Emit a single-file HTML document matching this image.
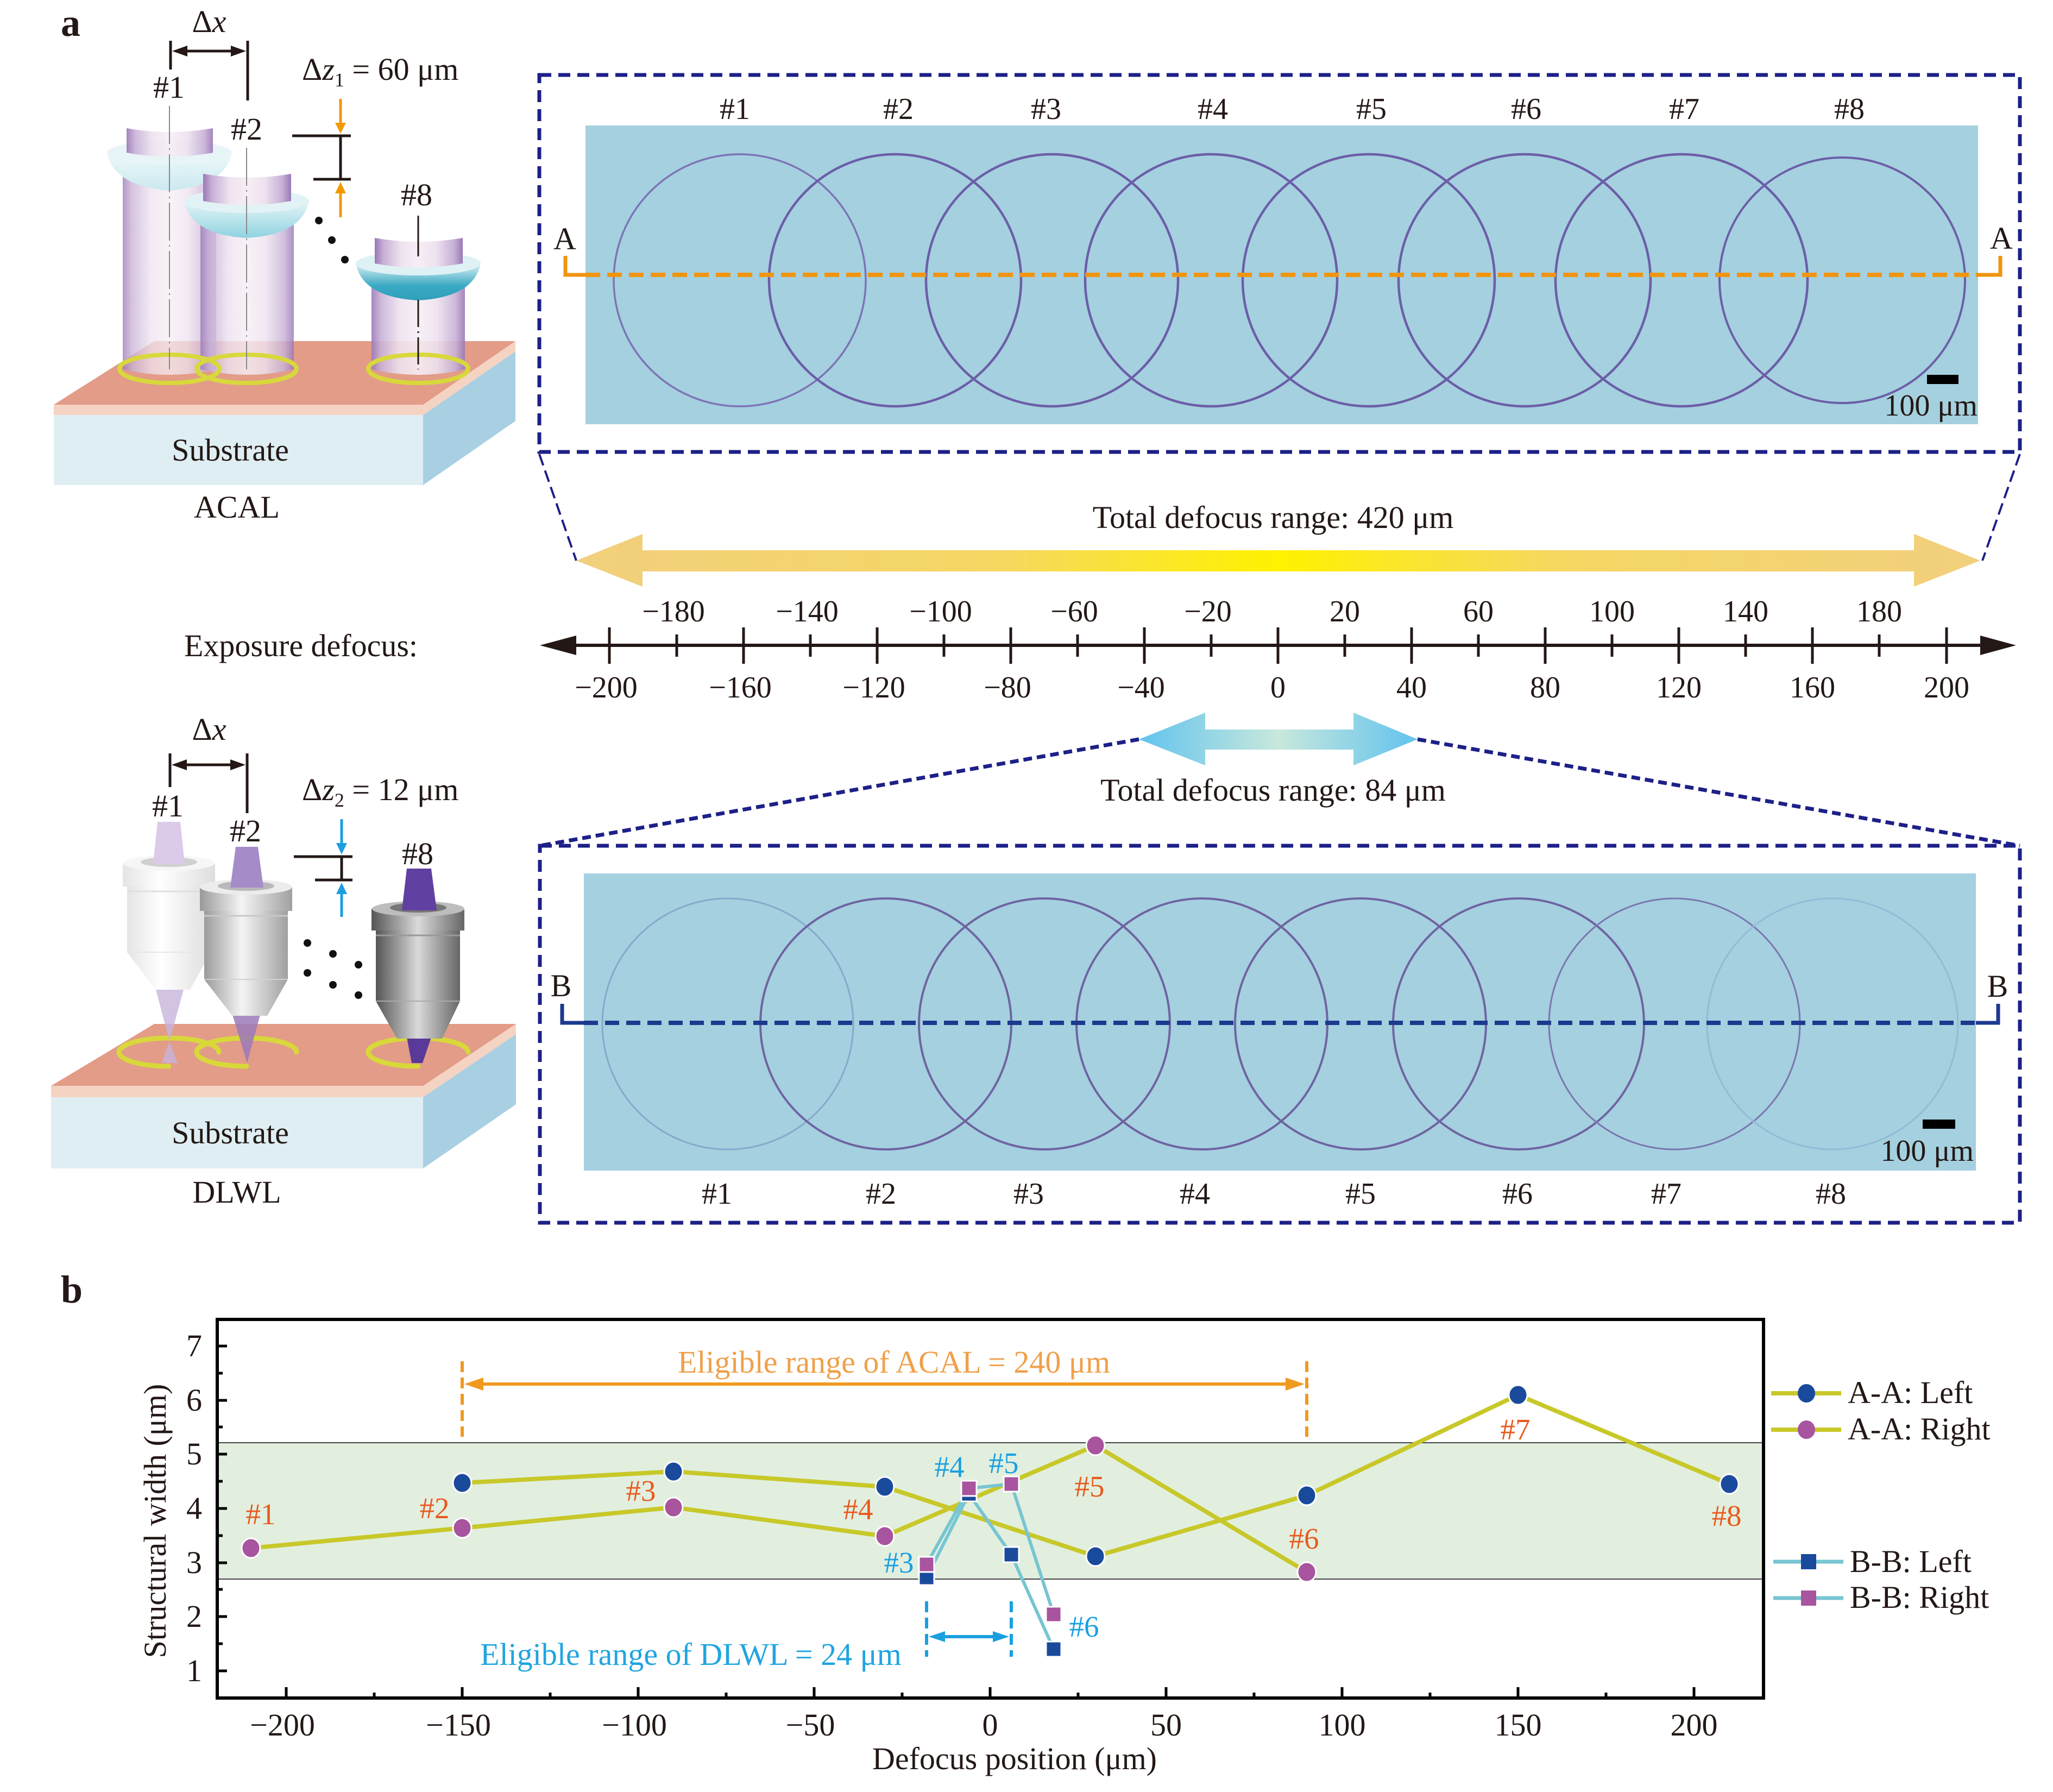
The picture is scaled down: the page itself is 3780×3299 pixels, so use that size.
<!DOCTYPE html>
<html><head><meta charset="utf-8"><style>
html,body{margin:0;padding:0;background:#fff;}
svg{display:block;}
text{font-family:"Liberation Serif","Times New Roman",serif;fill:#231815;}
</style></head><body>
<svg width="3780" height="3299" viewBox="0 0 3780 3299" xmlns="http://www.w3.org/2000/svg">
<defs>
<linearGradient id="yg" x1="0" x2="1"><stop offset="0" stop-color="#f2cf7e"/><stop offset="0.3" stop-color="#f5d762"/><stop offset="0.5" stop-color="#fff200"/><stop offset="0.7" stop-color="#f5d762"/><stop offset="1" stop-color="#f2cf7e"/></linearGradient>
<linearGradient id="bgr" x1="0" x2="1"><stop offset="0" stop-color="#62c3ee"/><stop offset="0.5" stop-color="#c8e8dc"/><stop offset="1" stop-color="#62c3ee"/></linearGradient>
<linearGradient id="tube" x1="0" x2="1"><stop offset="0" stop-color="#9a78b6"/><stop offset="0.1" stop-color="#c7b0d6"/><stop offset="0.3" stop-color="#eee2ef"/><stop offset="0.5" stop-color="#f6eef5"/><stop offset="0.7" stop-color="#eee2ef"/><stop offset="0.9" stop-color="#c7b0d6"/><stop offset="1" stop-color="#9a78b6"/></linearGradient>
<linearGradient id="lens1" x1="0" y1="0" x2="0" y2="1"><stop offset="0" stop-color="#eef8fa"/><stop offset="1" stop-color="#cbe9ef"/></linearGradient>
<linearGradient id="lens2" x1="0" y1="0" x2="0" y2="1"><stop offset="0" stop-color="#e6f5f8"/><stop offset="1" stop-color="#8fd3e0"/></linearGradient>
<linearGradient id="lens8" x1="0" y1="0" x2="0" y2="1"><stop offset="0" stop-color="#dff2f6"/><stop offset="0.6" stop-color="#3aa9c3"/><stop offset="1" stop-color="#2f9fbb"/></linearGradient>
<linearGradient id="objW" x1="0" x2="1"><stop offset="0" stop-color="#e4e4e4"/><stop offset="0.4" stop-color="#ffffff"/><stop offset="1" stop-color="#dedede"/></linearGradient>
<linearGradient id="objS" x1="0" x2="1"><stop offset="0" stop-color="#9a9a9a"/><stop offset="0.45" stop-color="#f4f4f4"/><stop offset="1" stop-color="#a0a0a0"/></linearGradient>
<linearGradient id="objD" x1="0" x2="1"><stop offset="0" stop-color="#555"/><stop offset="0.5" stop-color="#dadada"/><stop offset="1" stop-color="#666"/></linearGradient>
</defs>

<!-- ============ PANEL a : ACAL illustration ============ -->
<text x="112" y="66" font-size="72" font-weight="bold">a</text>

<polygon points="99,745 284,628 949,628 779,745" fill="#e29c88"/>
<polygon points="99,745 779,745 779,764 99,764" fill="#f5d3c3"/>
<polygon points="779,745 949,628 949,647 779,764" fill="#f5d3c3"/>
<rect x="99" y="764" width="680" height="129" fill="#dfeef3"/>
<polygon points="779,764 949,647 949,775 779,893" fill="#a9cfe3"/>
<text x="424" y="848" font-size="58" text-anchor="middle">Substrate</text>
<text x="436" y="953" font-size="58" text-anchor="middle">ACAL</text>

<!-- unit 1 -->
<path d="M226,300 L398,300 L398,680 Q312,700 226,680 Z" fill="url(#tube)" opacity="0.75"/>
<g transform="translate(312,281)">
<path d="M-115,0 C-107,39 -72,64 0,70 C72,64 107,39 115,0 Z" fill="url(#lens1)"/>
<ellipse cx="0" cy="0" rx="115" ry="22" fill="#e8f5f8"/>
<path d="M-79,-45 L-79,0 Q0,15 80,0 L80,-45 Q0,-31 -79,-45 Z" fill="url(#tube)" opacity="0.9"/>
</g>
<!-- unit 2 -->
<path d="M369,390 L541,390 L541,680 Q455,700 369,680 Z" fill="url(#tube)" opacity="0.82"/>
<g transform="translate(454,370)">
<path d="M-115,0 C-107,39 -72,64 0,68 C72,64 107,39 115,0 Z" fill="url(#lens2)"/>
<ellipse cx="0" cy="0" rx="115" ry="22" fill="#e2f3f6"/>
<path d="M-80,-50 L-80,0 Q0,15 82,0 L82,-50 Q0,-36 -80,-50 Z" fill="url(#tube)"/>
</g>
<!-- unit 8 -->
<path d="M684,500 L856,500 L856,680 Q770,700 684,680 Z" fill="url(#tube)" opacity="0.9"/>
<g transform="translate(770,485)">
<path d="M-115,0 C-107,39 -72,64 0,68 C72,64 107,39 115,0 Z" fill="url(#lens8)"/>
<ellipse cx="0" cy="0" rx="115" ry="22" fill="#def1f5"/>
<path d="M-80,-47 L-80,0 Q0,15 82,0 L82,-47 Q0,-33 -80,-47 Z" fill="url(#tube)"/>
</g>
<ellipse cx="312" cy="679" rx="92" ry="26" fill="none" stroke="#d8d83c" stroke-width="8"/>
<ellipse cx="454" cy="679" rx="92" ry="26" fill="none" stroke="#d8d83c" stroke-width="8"/>
<ellipse cx="770" cy="679" rx="92" ry="26" fill="none" stroke="#d8d83c" stroke-width="8"/>
<line x1="312" y1="195" x2="312" y2="680" stroke="#888" stroke-width="2" stroke-dasharray="70 8 3 8"/>
<line x1="454" y1="272" x2="454" y2="680" stroke="#888" stroke-width="2" stroke-dasharray="70 8 3 8"/>
<line x1="770" y1="397" x2="770" y2="472" stroke="#231815" stroke-width="3"/>
<line x1="770" y1="552" x2="770" y2="680" stroke="#231815" stroke-width="3" stroke-dasharray="50 8 3 8"/>

<text x="311" y="180" font-size="58" text-anchor="middle">#1</text>
<text x="454" y="257" font-size="58" text-anchor="middle">#2</text>
<text x="767" y="378" font-size="58" text-anchor="middle">#8</text>

<line x1="314" y1="75" x2="314" y2="128" stroke="#231815" stroke-width="5"/>
<line x1="456" y1="75" x2="456" y2="185" stroke="#231815" stroke-width="5"/>
<line x1="330" y1="94" x2="440" y2="94" stroke="#231815" stroke-width="5"/>
<polygon points="317,94 345,84 345,104" fill="#231815"/>
<polygon points="453,94 425,84 425,104" fill="#231815"/>
<text x="385" y="59" font-size="58" text-anchor="middle">Δ<tspan font-style="italic">x</tspan></text>

<text x="556" y="147" font-size="58">Δ<tspan font-style="italic">z</tspan><tspan font-size="36" dy="12">1</tspan><tspan dy="-12"> = 60 μm</tspan></text>
<line x1="627" y1="182" x2="627" y2="230" stroke="#f39800" stroke-width="5"/>
<polygon points="627,246 617,226 637,226" fill="#f39800"/>
<line x1="538" y1="250" x2="646" y2="250" stroke="#231815" stroke-width="5"/>
<line x1="577" y1="330" x2="646" y2="330" stroke="#231815" stroke-width="5"/>
<line x1="627" y1="250" x2="627" y2="330" stroke="#231815" stroke-width="5"/>
<line x1="627" y1="352" x2="627" y2="400" stroke="#f39800" stroke-width="5"/>
<polygon points="627,335 617,356 637,356" fill="#f39800"/>
<circle cx="587" cy="406" r="7" fill="#111"/>
<circle cx="611" cy="442" r="7" fill="#111"/>
<circle cx="635" cy="478" r="7" fill="#111"/>

<!-- ============ top dashed box ============ -->
<rect x="993" y="138" width="2726" height="694" fill="none" stroke="#1d2087" stroke-width="7" stroke-dasharray="22 13"/>
<rect x="1078" y="231" width="2564" height="550" fill="#a5d0df"/>
<g fill="none" stroke="#6b5ea8" stroke-width="4.5">
<circle cx="1362" cy="516" r="232" stroke="#7c74b6" stroke-width="3.5"/>
<circle cx="1648" cy="516" r="232"/>
<circle cx="1937" cy="516" r="232"/>
<circle cx="2230" cy="516" r="232"/>
<circle cx="2520" cy="516" r="232"/>
<circle cx="2807" cy="516" r="232"/>
<circle cx="3096" cy="516" r="232"/>
<circle cx="3392" cy="516" r="226" stroke-width="4"/>
</g>
<line x1="1078" y1="506" x2="3642" y2="506" stroke="#f0950f" stroke-width="8" stroke-dasharray="27 13"/>
<polyline points="1041,471 1041,506 1078,506" fill="none" stroke="#f0950f" stroke-width="7"/>
<polyline points="3642,506 3683,506 3683,471" fill="none" stroke="#f0950f" stroke-width="7"/>
<text x="1040" y="459" font-size="58" text-anchor="middle">A</text>
<text x="3685" y="458" font-size="58" text-anchor="middle">A</text>
<g font-size="56" text-anchor="middle">
<text x="1353" y="219">#1</text><text x="1654" y="219">#2</text><text x="1926" y="219">#3</text><text x="2233" y="219">#4</text>
<text x="2525" y="219">#5</text><text x="2810" y="219">#6</text><text x="3101" y="219">#7</text><text x="3405" y="219">#8</text>
</g>
<rect x="3548" y="690" width="58" height="17" fill="#000"/>
<text x="3641" y="765" font-size="56" text-anchor="end">100 μm</text>

<line x1="993" y1="836" x2="1061" y2="1032" stroke="#1d2087" stroke-width="4" stroke-dasharray="22 10"/>
<line x1="3719" y1="836" x2="3650" y2="1032" stroke="#1d2087" stroke-width="4" stroke-dasharray="22 10"/>

<!-- yellow arrow -->
<polygon points="1061,1032 1183,983 1183,1013 3524,1013 3524,983 3646,1032 3524,1080 3524,1052 1183,1052 1183,1080" fill="url(#yg)"/>
<text x="2344" y="972" font-size="58" text-anchor="middle">Total defocus range: 420 μm</text>

<!-- number line -->
<text x="339" y="1208" font-size="58">Exposure defocus:</text>
<line x1="1040" y1="1188" x2="3670" y2="1188" stroke="#231815" stroke-width="6"/>
<polygon points="994,1188 1061,1170 1061,1206" fill="#231815"/>
<polygon points="3712,1188 3646,1170 3646,1206" fill="#231815"/>
<g stroke="#231815" stroke-width="5">
<line x1="1122" y1="1155" x2="1122" y2="1222"/><line x1="1369" y1="1155" x2="1369" y2="1222"/><line x1="1615" y1="1155" x2="1615" y2="1222"/><line x1="1861" y1="1155" x2="1861" y2="1222"/><line x1="2107" y1="1155" x2="2107" y2="1222"/><line x1="2353" y1="1155" x2="2353" y2="1222"/><line x1="2599" y1="1155" x2="2599" y2="1222"/><line x1="2845" y1="1155" x2="2845" y2="1222"/><line x1="3091" y1="1155" x2="3091" y2="1222"/><line x1="3337" y1="1155" x2="3337" y2="1222"/><line x1="3584" y1="1155" x2="3584" y2="1222"/>
<line x1="1246" y1="1168" x2="1246" y2="1209"/><line x1="1492" y1="1168" x2="1492" y2="1209"/><line x1="1738" y1="1168" x2="1738" y2="1209"/><line x1="1984" y1="1168" x2="1984" y2="1209"/><line x1="2230" y1="1168" x2="2230" y2="1209"/><line x1="2476" y1="1168" x2="2476" y2="1209"/><line x1="2722" y1="1168" x2="2722" y2="1209"/><line x1="2968" y1="1168" x2="2968" y2="1209"/><line x1="3214" y1="1168" x2="3214" y2="1209"/><line x1="3460" y1="1168" x2="3460" y2="1209"/>
</g>
<g font-size="56" text-anchor="middle">
<text x="1240" y="1144">−180</text><text x="1486" y="1144">−140</text><text x="1732" y="1144">−100</text><text x="1978" y="1144">−60</text><text x="2224" y="1144">−20</text>
<text x="2476" y="1144">20</text><text x="2722" y="1144">60</text><text x="2968" y="1144">100</text><text x="3214" y="1144">140</text><text x="3460" y="1144">180</text>
<text x="1116" y="1284">−200</text><text x="1363" y="1284">−160</text><text x="1609" y="1284">−120</text><text x="1855" y="1284">−80</text><text x="2101" y="1284">−40</text>
<text x="2353" y="1284">0</text><text x="2599" y="1284">40</text><text x="2845" y="1284">80</text><text x="3091" y="1284">120</text><text x="3337" y="1284">160</text><text x="3584" y="1284">200</text>
</g>

<!-- blue arrow -->
<polygon points="2097,1361 2219,1312 2219,1343 2492,1343 2492,1312 2610,1361 2492,1409 2492,1380 2219,1380 2219,1409" fill="url(#bgr)"/>
<text x="2344" y="1474" font-size="58" text-anchor="middle">Total defocus range: 84 μm</text>
<line x1="2097" y1="1361" x2="994" y2="1557" stroke="#1d2087" stroke-width="7" stroke-dasharray="16 9"/>
<line x1="2610" y1="1361" x2="3719" y2="1557" stroke="#1d2087" stroke-width="7" stroke-dasharray="16 9"/>

<!-- ============ bottom dashed box ============ -->
<rect x="994" y="1557" width="2725" height="694" fill="none" stroke="#1d2087" stroke-width="7" stroke-dasharray="22 13"/>
<rect x="1075" y="1608" width="2563" height="547" fill="#a5d0df"/>
<g fill="none" stroke="#6e64a2" stroke-width="4">
<circle cx="1340" cy="1885" r="231" stroke="#86a8cc" stroke-width="3"/>
<circle cx="1631" cy="1885" r="231"/>
<circle cx="1923" cy="1885" r="231"/>
<circle cx="2213" cy="1885" r="231"/>
<circle cx="2505" cy="1885" r="231"/>
<circle cx="2796" cy="1885" r="231"/>
<circle cx="3083" cy="1885" r="231" stroke="#7a76b0" stroke-width="3"/>
<circle cx="3374" cy="1885" r="231" stroke="#93bbd6" stroke-width="3"/>
</g>
<line x1="1075" y1="1883" x2="3638" y2="1883" stroke="#1b3a8f" stroke-width="8" stroke-dasharray="26 13"/>
<polyline points="1035,1848 1035,1883 1075,1883" fill="none" stroke="#1b3a8f" stroke-width="7"/>
<polyline points="3638,1883 3679,1883 3679,1848" fill="none" stroke="#1b3a8f" stroke-width="7"/>
<text x="1033" y="1834" font-size="58" text-anchor="middle">B</text>
<text x="3678" y="1835" font-size="58" text-anchor="middle">B</text>
<g font-size="56" text-anchor="middle">
<text x="1320" y="2216">#1</text><text x="1622" y="2216">#2</text><text x="1894" y="2216">#3</text><text x="2200" y="2216">#4</text>
<text x="2505" y="2216">#5</text><text x="2794" y="2216">#6</text><text x="3068" y="2216">#7</text><text x="3371" y="2216">#8</text>
</g>
<rect x="3540" y="2061" width="60" height="17" fill="#000"/>
<text x="3634" y="2137" font-size="56" text-anchor="end">100 μm</text>

<!-- ============ DLWL illustration ============ -->
<polygon points="94,1999 284,1885 950,1885 779,1999" fill="#e29c88"/>
<polygon points="94,1999 779,1999 779,2020 94,2020" fill="#f5d3c3"/>
<polygon points="779,1999 950,1885 950,1904 779,2020" fill="#f5d3c3"/>
<rect x="94" y="2020" width="685" height="131" fill="#dfeef3"/>
<polygon points="779,2020 950,1904 950,2033 779,2151" fill="#a9cfe3"/>
<text x="424" y="2105" font-size="58" text-anchor="middle">Substrate</text>
<text x="436" y="2214" font-size="58" text-anchor="middle">DLWL</text>

<g fill="none" stroke="#d8d83a" stroke-width="9" stroke-linecap="round">
<path d="M311,1963 A92,26 0 1 1 403,1937"/>
<path d="M454,1963 A92,26 0 1 1 546,1937"/>
<path d="M770,1963 A92,26 0 1 1 862,1937"/>
</g>
<!-- beams below -->
<polygon points="287,1822 338,1822 312,1917" fill="#c8b4dc" opacity="0.8"/>
<polygon points="312,1917 298,1957 327,1957" fill="#c8b4dc" opacity="0.8"/>
<polygon points="428,1868 479,1868 455,1957" fill="#9a7ab8" opacity="0.85"/>
<polygon points="749,1910 794,1910 778,1957 758,1957" fill="#5a3a98"/>

<!-- objective 1 (white) -->
<rect x="226" y="1589" width="170" height="43" fill="url(#objW)"/>
<rect x="234" y="1632" width="154" height="121" fill="url(#objW)"/>
<polygon points="234,1753 388,1753 350,1822 287,1822" fill="url(#objW)"/>
<line x1="234" y1="1641" x2="388" y2="1641" stroke="#e0e0e0" stroke-width="3"/>
<line x1="234" y1="1753" x2="388" y2="1753" stroke="#e6e6e6" stroke-width="2"/>
<ellipse cx="311" cy="1589" rx="85" ry="14" fill="#f6f6f6"/>
<ellipse cx="311" cy="1587" rx="52" ry="9" fill="#d0d0d0"/>
<polygon points="290,1513 332,1513 340,1590 282,1590" fill="#dccaea"/>
<!-- objective 2 (silver) -->
<rect x="368" y="1633" width="170" height="44" fill="url(#objS)"/>
<rect x="376" y="1677" width="154" height="126" fill="url(#objS)"/>
<polygon points="376,1803 530,1803 492,1870 428,1870" fill="url(#objS)"/>
<line x1="376" y1="1686" x2="530" y2="1686" stroke="#c8c8c8" stroke-width="3"/>
<line x1="376" y1="1803" x2="530" y2="1803" stroke="#d0d0d0" stroke-width="2"/>
<ellipse cx="453" cy="1633" rx="85" ry="14" fill="#ececec"/>
<ellipse cx="453" cy="1631" rx="52" ry="9" fill="#b8b8b8"/>
<polygon points="434,1559 475,1559 485,1634 424,1634" fill="#a58cc8"/>
<!-- objective 8 (dark) -->
<rect x="684" y="1673" width="171" height="40" fill="url(#objD)"/>
<rect x="692" y="1713" width="155" height="130" fill="url(#objD)"/>
<polygon points="692,1843 847,1843 814,1912 731,1912" fill="url(#objD)"/>
<line x1="692" y1="1722" x2="847" y2="1722" stroke="#999" stroke-width="3"/>
<line x1="692" y1="1843" x2="847" y2="1843" stroke="#aaa" stroke-width="2"/>
<ellipse cx="770" cy="1673" rx="85" ry="14" fill="#bdbdbd"/>
<ellipse cx="770" cy="1671" rx="52" ry="9" fill="#777"/>
<polygon points="749,1599 794,1599 804,1676 740,1676" fill="#6040a0"/>

<text x="309" y="1503" font-size="58" text-anchor="middle">#1</text>
<text x="452" y="1549" font-size="58" text-anchor="middle">#2</text>
<text x="769" y="1591" font-size="58" text-anchor="middle">#8</text>

<line x1="313" y1="1387" x2="313" y2="1449" stroke="#231815" stroke-width="5"/>
<line x1="455" y1="1387" x2="455" y2="1497" stroke="#231815" stroke-width="5"/>
<line x1="330" y1="1408" x2="440" y2="1408" stroke="#231815" stroke-width="5"/>
<polygon points="316,1408 344,1398 344,1418" fill="#231815"/>
<polygon points="452,1408 424,1398 424,1418" fill="#231815"/>
<text x="385" y="1362" font-size="58" text-anchor="middle">Δ<tspan font-style="italic">x</tspan></text>

<text x="556" y="1473" font-size="58">Δ<tspan font-style="italic">z</tspan><tspan font-size="36" dy="12">2</tspan><tspan dy="-12"> = 12 μm</tspan></text>
<line x1="629" y1="1508" x2="629" y2="1556" stroke="#1a9fe0" stroke-width="5"/>
<polygon points="629,1573 619,1552 639,1552" fill="#1a9fe0"/>
<line x1="541" y1="1577" x2="649" y2="1577" stroke="#231815" stroke-width="5"/>
<line x1="580" y1="1620" x2="649" y2="1620" stroke="#231815" stroke-width="5"/>
<line x1="629" y1="1577" x2="629" y2="1620" stroke="#231815" stroke-width="5"/>
<line x1="629" y1="1642" x2="629" y2="1688" stroke="#1a9fe0" stroke-width="5"/>
<polygon points="629,1625 619,1646 639,1646" fill="#1a9fe0"/>
<g fill="#111">
<circle cx="566" cy="1736" r="7"/><circle cx="613" cy="1756" r="7"/><circle cx="660" cy="1776" r="7"/>
<circle cx="566" cy="1791" r="7"/><circle cx="613" cy="1813" r="7"/><circle cx="660" cy="1832" r="7"/>
</g>

<!-- ============ PANEL b ============ -->
<text x="112" y="2398" font-size="72" font-weight="bold">b</text>
<rect x="400" y="2656" width="2847" height="251" fill="#e2efdf"/>
<line x1="400" y1="2656" x2="3247" y2="2656" stroke="#444" stroke-width="2"/>
<line x1="400" y1="2907" x2="3247" y2="2907" stroke="#444" stroke-width="2"/>

<!-- y ticks -->
<g stroke="#000" stroke-width="5">
<line x1="400" y1="3076" x2="418" y2="3076"/><line x1="400" y1="2976" x2="418" y2="2976"/><line x1="400" y1="2877" x2="418" y2="2877"/><line x1="400" y1="2777" x2="418" y2="2777"/><line x1="400" y1="2677" x2="418" y2="2677"/><line x1="400" y1="2578" x2="418" y2="2578"/><line x1="400" y1="2478" x2="418" y2="2478"/>
<line x1="400" y1="3026" x2="410" y2="3026"/><line x1="400" y1="2926" x2="410" y2="2926"/><line x1="400" y1="2827" x2="410" y2="2827"/><line x1="400" y1="2727" x2="410" y2="2727"/><line x1="400" y1="2627" x2="410" y2="2627"/><line x1="400" y1="2528" x2="410" y2="2528"/>
</g>
<!-- x ticks -->
<g stroke="#000" stroke-width="5">
<line x1="527" y1="3126" x2="527" y2="3106"/><line x1="851" y1="3126" x2="851" y2="3106"/><line x1="1175" y1="3126" x2="1175" y2="3106"/><line x1="1499" y1="3126" x2="1499" y2="3106"/><line x1="1823" y1="3126" x2="1823" y2="3106"/><line x1="2147" y1="3126" x2="2147" y2="3106"/><line x1="2471" y1="3126" x2="2471" y2="3106"/><line x1="2795" y1="3126" x2="2795" y2="3106"/><line x1="3119" y1="3126" x2="3119" y2="3106"/>
<line x1="689" y1="3126" x2="689" y2="3116"/><line x1="1013" y1="3126" x2="1013" y2="3116"/><line x1="1337" y1="3126" x2="1337" y2="3116"/><line x1="1661" y1="3126" x2="1661" y2="3116"/><line x1="1985" y1="3126" x2="1985" y2="3116"/><line x1="2309" y1="3126" x2="2309" y2="3116"/><line x1="2633" y1="3126" x2="2633" y2="3116"/><line x1="2957" y1="3126" x2="2957" y2="3116"/>
</g>
<rect x="400" y="2429" width="2847" height="697" fill="none" stroke="#000" stroke-width="6"/>

<g font-size="58" text-anchor="end">
<text x="372" y="3095">1</text><text x="372" y="2995">2</text><text x="372" y="2896">3</text><text x="372" y="2796">4</text><text x="372" y="2696">5</text><text x="372" y="2597">6</text><text x="372" y="2497">7</text>
</g>
<g font-size="58" text-anchor="middle">
<text x="520" y="3195">−200</text><text x="844" y="3195">−150</text><text x="1168" y="3195">−100</text><text x="1492" y="3195">−50</text><text x="1823" y="3195">0</text>
<text x="2147" y="3195">50</text><text x="2471" y="3195">100</text><text x="2795" y="3195">150</text><text x="3119" y="3195">200</text>
</g>
<text x="1868" y="3257" font-size="58" text-anchor="middle">Defocus position (μm)</text>
<text transform="translate(305,2800) rotate(-90)" font-size="58" text-anchor="middle">Structural width (μm)</text>

<!-- orange annotation -->
<g stroke="#f09a20" stroke-width="6">
<line x1="851" y1="2506" x2="851" y2="2645" stroke-dasharray="20 10"/>
<line x1="2406" y1="2506" x2="2406" y2="2645" stroke-dasharray="20 10"/>
<line x1="880" y1="2548" x2="2378" y2="2548"/>
</g>
<polygon points="855,2548 890,2536 890,2560" fill="#f09a20"/>
<polygon points="2402,2548 2367,2536 2367,2560" fill="#f09a20"/>
<text x="1646" y="2527" font-size="58" text-anchor="middle" style="fill:#f0a04a">Eligible range of ACAL = 240 μm</text>

<!-- cyan annotation -->
<g stroke="#1aa0e0" stroke-width="6">
<line x1="1706" y1="2948" x2="1706" y2="3050" stroke-dasharray="20 10"/>
<line x1="1862" y1="2948" x2="1862" y2="3050" stroke-dasharray="20 10"/>
<line x1="1730" y1="3013" x2="1838" y2="3013"/>
</g>
<polygon points="1710,3013 1740,3003 1740,3023" fill="#1aa0e0"/>
<polygon points="1858,3013 1828,3003 1828,3023" fill="#1aa0e0"/>
<text x="1272" y="3065" font-size="58" text-anchor="middle" style="fill:#1fa5e0">Eligible range of DLWL = 24 μm</text>

<!-- data lines -->
<g fill="none" stroke="#c8c82a" stroke-width="8" stroke-linejoin="round">
<polyline points="851,2730 1240,2709 1629,2737 2017,2865 2406,2753 2795,2568 3184,2732"/>
<polyline points="462,2850 851,2813 1240,2775 1629,2828 2017,2661 2406,2894"/>
</g>
<g fill="none" stroke="#77c5d2" stroke-width="6" stroke-linejoin="round">
<polyline points="1706,2904 1784,2750 1862,2862 1940,3036"/>
<polyline points="1706,2880 1784,2740 1862,2732 1940,2972"/>
</g>
<!-- markers -->
<g stroke="#fff" stroke-width="3">
<g fill="#1a4a9c">
<ellipse cx="851" cy="2730" rx="17" ry="18"/><ellipse cx="1240" cy="2709" rx="17" ry="18"/><ellipse cx="1629" cy="2737" rx="17" ry="18"/><ellipse cx="2017" cy="2865" rx="17" ry="18"/><ellipse cx="2406" cy="2753" rx="17" ry="18"/><ellipse cx="2795" cy="2568" rx="17" ry="18"/><ellipse cx="3184" cy="2732" rx="17" ry="18"/>
</g>
<g fill="#a8549e">
<ellipse cx="462" cy="2850" rx="17" ry="18"/><ellipse cx="851" cy="2813" rx="17" ry="18"/><ellipse cx="1240" cy="2775" rx="17" ry="18"/><ellipse cx="1629" cy="2828" rx="17" ry="18"/><ellipse cx="2017" cy="2661" rx="17" ry="18"/><ellipse cx="2406" cy="2894" rx="17" ry="18"/>
</g>
<g fill="#1a4a9c">
<rect x="1692" y="2890" width="28" height="28"/><rect x="1770" y="2736" width="28" height="28"/><rect x="1848" y="2848" width="28" height="28"/><rect x="1926" y="3022" width="28" height="28"/>
</g>
<g fill="#a8549e">
<rect x="1692" y="2866" width="28" height="28"/><rect x="1770" y="2726" width="28" height="28"/><rect x="1848" y="2718" width="28" height="28"/><rect x="1926" y="2958" width="28" height="28"/>
</g>
</g>

<!-- point labels -->
<g font-size="55" text-anchor="middle" style="fill:#e85a1e">
<text x="480" y="2806" style="fill:#e85a1e">#1</text><text x="800" y="2795" style="fill:#e85a1e">#2</text><text x="1180" y="2763" style="fill:#e85a1e">#3</text><text x="1580" y="2797" style="fill:#e85a1e">#4</text>
<text x="2006" y="2755" style="fill:#e85a1e">#5</text><text x="2401" y="2851" style="fill:#e85a1e">#6</text><text x="2790" y="2650" style="fill:#e85a1e">#7</text><text x="3179" y="2809" style="fill:#e85a1e">#8</text>
</g>
<g font-size="55" text-anchor="middle">
<text x="1655" y="2895" style="fill:#1aa0e0">#3</text><text x="1748" y="2719" style="fill:#1aa0e0">#4</text><text x="1848" y="2712" style="fill:#1aa0e0">#5</text><text x="1996" y="3013" style="fill:#1aa0e0">#6</text>
</g>

<!-- legend -->
<line x1="3261" y1="2565" x2="3390" y2="2565" stroke="#c8c82a" stroke-width="8"/>
<ellipse cx="3326" cy="2565" rx="16" ry="17" fill="#1a4a9c"/>
<text x="3402" y="2583" font-size="58">A-A: Left</text>
<line x1="3261" y1="2632" x2="3390" y2="2632" stroke="#c8c82a" stroke-width="8"/>
<ellipse cx="3326" cy="2632" rx="16" ry="17" fill="#a8549e"/>
<text x="3402" y="2650" font-size="58">A-A: Right</text>
<line x1="3265" y1="2875" x2="3394" y2="2875" stroke="#77c5d2" stroke-width="7"/>
<rect x="3316" y="2861" width="28" height="28" fill="#1a4a9c"/>
<text x="3406" y="2894" font-size="58">B-B: Left</text>
<line x1="3265" y1="2942" x2="3394" y2="2942" stroke="#77c5d2" stroke-width="7"/>
<rect x="3316" y="2928" width="28" height="28" fill="#a8549e"/>
<text x="3406" y="2960" font-size="58">B-B: Right</text>
</svg>
</body></html>
